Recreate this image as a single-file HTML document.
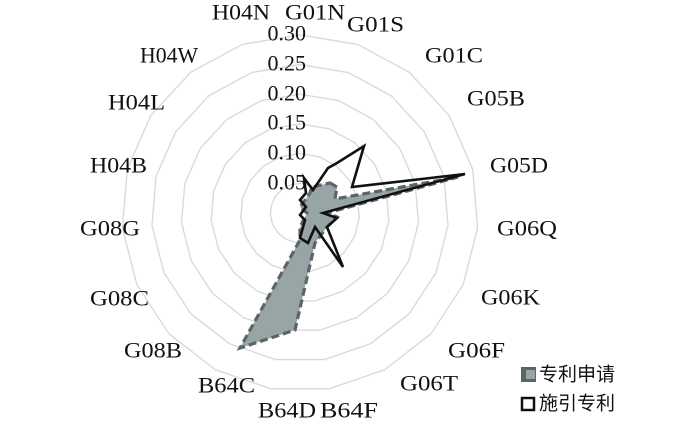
<!DOCTYPE html>
<html><head><meta charset="utf-8"><style>
html,body{margin:0;padding:0;background:#fff;}
svg{display:block}
text{font-family:"Liberation Serif","Noto Serif CJK SC",serif;font-size:22px;fill:#111;}
.cj{font-family:"Liberation Sans","Noto Sans CJK SC",sans-serif;font-size:19px;}
</style></head><body>
<svg width="700" height="432" viewBox="0 0 700 432">
<g fill="none" stroke="#d3dddd" stroke-width="1.4" id="rings"></g>
<polygon points="330,183 337,187 335,199 458,177 327,213 337,217 327,227 315,243 295,330 240,348 300,240 300,227 307,213 300,207 310,193 312,187" fill="#98a5a7" stroke="#5e6466" stroke-width="3.2" stroke-dasharray="8,4"/>
<polygon points="304,178 313,190 328,168 337,163 364,146 352,187 465,174 323,213 337,218 327,227 343,267 315,227 308,243 300,238 305,220 300,215 306,207 300,200 306,193" fill="none" stroke="#111" stroke-width="2.6" stroke-linejoin="miter"/>
<g text-anchor="end" dominant-baseline="central">
<text x="306" y="33">0.30</text><text x="306" y="63">0.25</text><text x="306" y="93">0.20</text>
<text x="306" y="122">0.15</text><text x="306" y="152">0.10</text><text x="306" y="182">0.05</text>
</g>
<g dominant-baseline="central">
<text x="212" y="12" textLength="58" lengthAdjust="spacingAndGlyphs">H04N</text><text x="285" y="12" textLength="60" lengthAdjust="spacingAndGlyphs">G01N</text><text x="347" y="24" textLength="57" lengthAdjust="spacingAndGlyphs">G01S</text>
<text x="425" y="55" textLength="58" lengthAdjust="spacingAndGlyphs">G01C</text><text x="467" y="98" textLength="58" lengthAdjust="spacingAndGlyphs">G05B</text><text x="490" y="165" textLength="58" lengthAdjust="spacingAndGlyphs">G05D</text>
<text x="497" y="228" textLength="60" lengthAdjust="spacingAndGlyphs">G06Q</text><text x="481" y="297" textLength="59" lengthAdjust="spacingAndGlyphs">G06K</text><text x="448" y="350" textLength="57" lengthAdjust="spacingAndGlyphs">G06F</text>
<text x="400" y="383" textLength="58" lengthAdjust="spacingAndGlyphs">G06T</text><text x="320" y="410" textLength="58" lengthAdjust="spacingAndGlyphs">B64F</text><text x="258" y="410" textLength="58" lengthAdjust="spacingAndGlyphs">B64D</text>
<text x="198" y="385" textLength="57" lengthAdjust="spacingAndGlyphs">B64C</text><text x="124" y="350" textLength="58" lengthAdjust="spacingAndGlyphs">G08B</text><text x="90" y="298" textLength="59" lengthAdjust="spacingAndGlyphs">G08C</text>
<text x="80" y="228" textLength="60" lengthAdjust="spacingAndGlyphs">G08G</text><text x="90" y="165" textLength="57" lengthAdjust="spacingAndGlyphs">H04B</text><text x="108" y="102" textLength="57" lengthAdjust="spacingAndGlyphs">H04L</text>
<text x="140" y="55" textLength="58" lengthAdjust="spacingAndGlyphs">H04W</text>
</g>
<rect x="521" y="367" width="15" height="15" fill="#5e6466"/>
<rect x="526" y="370" width="9" height="9" fill="#98a5a7"/>
<rect x="522" y="398" width="12" height="12" fill="none" stroke="#111" stroke-width="2.5"/>
<text class="cj" x="539" y="375" dominant-baseline="central">专利申请</text>
<text class="cj" x="539" y="404" dominant-baseline="central">施引专利</text>
</svg>
<script>
var g=document.getElementById('rings'),cx=300,cy=213;
for(var k=1;k<=6;k++){var r=29.7*k,p=[];for(var i=0;i<19;i++){var a=i*2*Math.PI/19;p.push((cx+r*Math.sin(a)).toFixed(1)+','+(cy-r*Math.cos(a)).toFixed(1));}
var e=document.createElementNS('http://www.w3.org/2000/svg','polygon');e.setAttribute('points',p.join(' '));g.appendChild(e);}
</script>
</body></html>
